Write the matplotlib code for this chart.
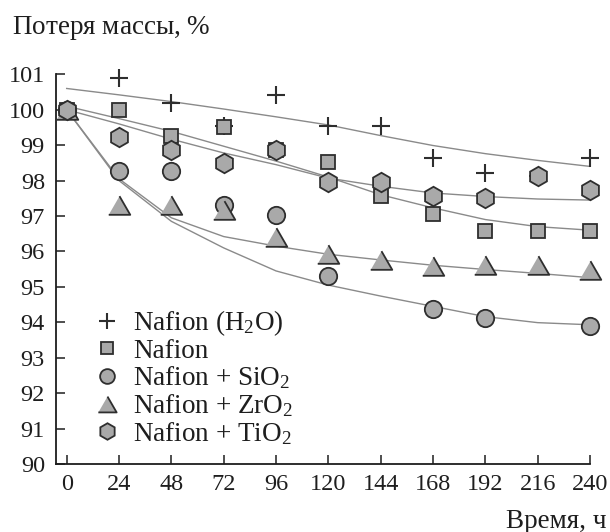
import numpy as np
import matplotlib
matplotlib.use("Agg")
import matplotlib.pyplot as plt

# ---------------- data ----------------
time_h = [0, 24, 48, 72, 96, 120, 144, 168, 192, 216, 240]
x_ticks = [0, 24, 48, 72, 96, 120, 144, 168, 192, 216, 240]
y_ticks = [90, 91, 92, 93, 94, 95, 96, 97, 98, 99, 100, 101]

nafion_h2o = [100.0, 100.9, 100.2, 99.55, 100.42, 99.53, 99.53, 98.64, 98.2, 98.12, 98.64]
nafion = [100.0, 99.98, 99.27, 99.51, 98.87, 98.52, 97.56, 97.07, 96.57, 96.57, 96.57]
nafion_sio2 = [100.0, 98.26, 98.26, 97.3, 97.04, 95.32, np.nan, 94.37, 94.13, np.nan, 93.9]
nafion_zro2 = [100.0, 97.3, 97.3, 97.18, 96.41, 95.94, 95.75, 95.58, 95.61, 95.61, 95.49]
nafion_tio2 = [100.0, 99.23, 98.87, 98.5, 98.85, 97.95, 97.95, 97.56, 97.51, 98.14, 97.73]

# trend curves
fit_h2o = [100.6, 100.42, 100.23, 100.02, 99.8, 99.57, 99.27, 98.99, 98.76, 98.57, 98.4]
fit_nafion = [100.1, 99.75, 99.39, 98.97, 98.55, 98.1, 97.6, 97.23, 96.9, 96.7, 96.6]
fit_sio2 = [100.0, 98.0, 96.85, 96.1, 95.45, 95.05, 94.74, 94.45, 94.16, 93.99, 93.93]
fit_zro2 = [100.0, 98.05, 96.95, 96.42, 96.15, 95.92, 95.76, 95.61, 95.49, 95.38, 95.26]
fit_tio2 = [100.0, 99.6, 99.17, 98.78, 98.45, 98.07, 97.84, 97.65, 97.55, 97.48, 97.45]

labels = ["Nafion (H$_2$O)", "Nafion", "Nafion + SiO$_2$",
          "Nafion + ZrO$_2$", "Nafion + TiO$_2$"]

# ---------------- style ----------------
plt.rcParams['font.family'] = ['Liberation Serif', 'DejaVu Serif']
plt.rcParams['mathtext.fontset'] = 'custom'
plt.rcParams['mathtext.rm'] = 'Liberation Serif'
plt.rcParams['mathtext.it'] = 'Liberation Serif:italic'
plt.rcParams['font.size'] = 19.5

FACE = '#a9a9a9'
EDGE = '#2e2e2e'
LINE = '#8a8a8a'
TXT = '#1e1e1e'

tri = [(-1.0, -0.866), (1.0, -0.866), (0.0, 0.866)]

fig = plt.figure(figsize=(6.1, 5.32), dpi=100)
ax = fig.add_axes([56 / 610, 1 - 464 / 532, 534 / 610, (464 - 74.3) / 532])

for fit in [fit_h2o, fit_nafion, fit_sio2, fit_zro2, fit_tio2]:
    ax.plot(time_h, fit, color=LINE, lw=1.0, zorder=2)

h1, = ax.plot(time_h, nafion_h2o, ls='none', marker='+', ms=13, mew=1.5,
              color=EDGE, clip_on=False, zorder=3)
h2, = ax.plot(time_h, nafion, ls='none', marker='s', ms=10.5, mew=1.3,
              mfc=FACE, mec=EDGE, clip_on=False, zorder=4)
h3, = ax.plot(time_h, nafion_sio2, ls='none', marker='o', ms=12.5, mew=1.3,
              mfc=FACE, mec=EDGE, clip_on=False, zorder=5)
h4, = ax.plot(time_h, nafion_zro2, ls='none', marker=tri, ms=15.5, mew=1.3,
              mfc=FACE, mec=EDGE, clip_on=False, zorder=6)
h5, = ax.plot(time_h, nafion_tio2, ls='none', marker='h', ms=14, mew=1.3,
              mfc=FACE, mec=EDGE, clip_on=False, zorder=7)

ax.set_xlim(-4.9, 240)
ax.set_ylim(90, 101)
ax.set_xticks(x_ticks)
ax.set_yticks(y_ticks)
ax.spines['top'].set_visible(False)
ax.spines['right'].set_visible(False)
for s in ['left', 'bottom']:
    ax.spines[s].set_linewidth(1.3)
    ax.spines[s].set_color(TXT)
ax.tick_params(direction='in', length=6.5, width=1.1, color=TXT,
               labelcolor=TXT, labelsize=17.5)
ax.tick_params(axis='x', pad=7)
ax.tick_params(axis='y', pad=8)

leg = ax.legend([h1, h2, h3, h4, h5], labels, loc='upper left',
                bbox_to_anchor=(0.0734, 0.40), frameon=False, markerscale=0.85,
                handlelength=0.85, handletextpad=0.55, labelspacing=0.03,
                borderaxespad=0, borderpad=0)
for t in leg.get_texts():
    t.set_color(TXT)

fig.text(12 / 610, 1 - 28 / 532, "Потеря массы, $\\mathit{\\%}$",
         ha='left', va='center', color=TXT)
fig.text(607 / 610, 1 - 521 / 532, "Время, ч", ha='right', va='center',
         color=TXT)

fig.savefig("out.png", dpi=100)
